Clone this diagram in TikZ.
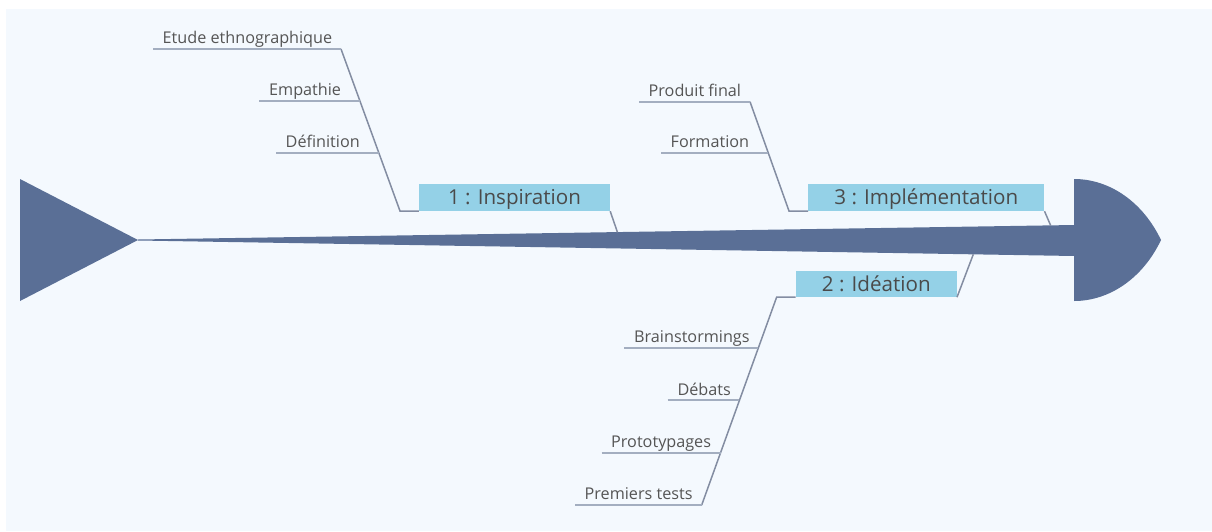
\documentclass[tikz,border=0pt]{standalone}
\usepackage{fontspec}
\setmainfont{Open Sans}
\definecolor{bg}{HTML}{F4F9FE}
\definecolor{fish}{HTML}{5A6F96}
\definecolor{boxblue}{HTML}{94D1E7}
\definecolor{linec}{HTML}{838DA2}
\definecolor{underc}{HTML}{A3AEC0}
\definecolor{txt}{HTML}{555555}
\definecolor{cattxt}{HTML}{4A4A4A}
\tikzset{
  lbl/.style={anchor=base west, inner sep=0pt, text=txt, font=\fontsize{16.2}{19}\selectfont},
  cat/.style={fill=boxblue, inner sep=0pt, text=cattxt, minimum height=27pt,
    text height=14.6pt, text depth=0pt, font=\fontsize{20.6}{24}\selectfont},
  conn/.style={draw=linec, line width=1.5pt},
  uline/.style={draw=underc, line width=2pt},
  fishpart/.style={fill=fish}
}
\begin{document}
\begin{tikzpicture}[x=1pt,y=-1pt]
\useasboundingbox (0,0) rectangle (1212,531);
\fill[bg] (6,9) rectangle (1212,531);
% tail
\fill[fishpart] (20,179) -- (138,240) -- (20,301) -- cycle;
% spine
\fill[fishpart] (138,239.5) -- (1074.5,225) -- (1074.5,256) -- (138,240.5) -- cycle;
% head
\fill[fishpart] (1074,179) .. controls (1109.9,179) and (1143,202.2) .. (1161,240)
  .. controls (1143,277.8) and (1109.9,301) .. (1074,301) -- cycle;

% spine anchor points
\coordinate (s1) at (617.5,232.4);
\coordinate (s3) at (1050.7,225.6);
\coordinate (s2) at (973.3,254.3);

% category boxes
\node[cat, minimum width=191pt] (b1) at (514.5,197.5) {1 : Inspiration};
\node[cat, minimum width=236pt] (b3) at (926.3,197.5) {3 : Implémentation};
\node[cat, minimum width=161pt, minimum height=26pt] (b2) at (876.3,284) {2 : Idéation};

% group 1
\coordinate (c1) at (400,211);
\coordinate (t1) at (341,49);
\coordinate (j1b) at (360,101);
\coordinate (j1c) at (379,153);
\coordinate (u1a) at (153,49);
\coordinate (u1b) at (259,101);
\coordinate (u1c) at (276,153);
\draw[conn] (s1) -- (b1.south east);
\draw[conn] (b1.south west) -- (c1) -- (t1);
\draw[uline] (u1a) -- (t1);
\draw[uline] (u1b) -- (j1b);
\draw[uline] (u1c) -- (j1c);
\node[lbl] (l1a) at (162.5,43.5) {Etude ethnographique};
\node[lbl] (l1b) at (269,95.5) {Empathie};
\node[lbl] (l1c) at (285.5,147.5) {Définition};

% group 3
\coordinate (c3) at (789,211);
\coordinate (t3) at (750,101.7);
\coordinate (j3b) at (768.4,153.3);
\coordinate (u3a) at (639,101.7);
\coordinate (u3b) at (661,153.3);
\draw[conn] (s3) -- (b3.south east);
\draw[conn] (b3.south west) -- (c3) -- (t3);
\draw[uline] (u3a) -- (t3);
\draw[uline] (u3b) -- (j3b);
\node[lbl] (l3a) at (648.5,96.2) {Produit final};
\node[lbl] (l3b) at (670.5,147.8) {Formation};

% group 2
\coordinate (c2) at (776.7,297);
\coordinate (t2) at (701.7,505);
\coordinate (j2a) at (758.4,347.7);
\coordinate (j2b) at (739.4,400.3);
\coordinate (j2c) at (720.5,452.7);
\coordinate (u2a) at (624.3,347.7);
\coordinate (u2b) at (667.7,400.3);
\coordinate (u2c) at (601.7,452.7);
\coordinate (u2d) at (575,505);
\draw[conn] (s2) -- (b2.south east);
\draw[conn] (b2.south west) -- (c2) -- (t2);
\draw[uline] (u2a) -- (j2a);
\draw[uline] (u2b) -- (j2b);
\draw[uline] (u2c) -- (j2c);
\draw[uline] (u2d) -- (t2);
\node[lbl] (l2a) at (634,342.5) {Brainstormings};
\node[lbl] (l2b) at (677.3,395) {Débats};
\node[lbl] (l2c) at (611,447.5) {Prototypages};
\node[lbl] (l2d) at (584.5,499.7) {Premiers tests};
\end{tikzpicture}
\end{document}
